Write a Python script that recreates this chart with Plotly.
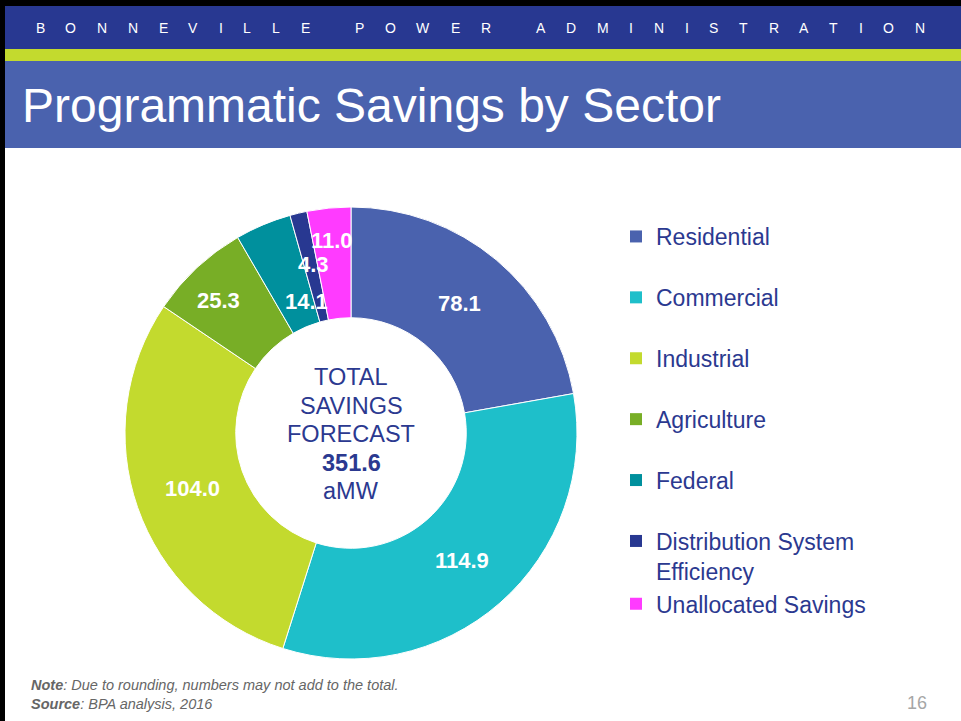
import plotly.graph_objects as go
import math

# data
sectors = ["Residential", "Commercial", "Industrial", "Agriculture", "Federal",
           "Distribution System<br>Efficiency", "Unallocated Savings"]
savings = [78.1, 114.9, 104.0, 25.3, 14.1, 4.3, 11.0]
total_forecast = 351.6
colors = ["#4A62AE", "#1EBFCA", "#C3DA2E", "#78AE26", "#00909D", "#283891", "#FF3BFF"]

W, H = 961, 721
DARK = "#283891"
TXT = "#2B3990"


def px(x):
    return x / W


def py(y):
    return 1 - y / H


def note(x, y, text, size, color, xanchor="center", **kw):
    fig.add_annotation(x=px(x), y=py(y), xref="paper", yref="paper", text=text,
                       showarrow=False, xanchor=xanchor, yanchor="middle",
                       font=dict(size=size, color=color), **kw)


fig = go.Figure()

# donut centre / size in pixels
cx, cy, R = 351, 433, 226
fig.add_trace(go.Pie(
    labels=sectors, values=savings, sort=False, direction="clockwise",
    hole=0.51, textinfo="none", hoverinfo="label+value",
    marker=dict(colors=colors, line=dict(color="white", width=1)),
    domain=dict(x=[px(cx - R), px(cx + R)], y=[py(cy + R), py(cy - R)]),
    showlegend=False,
))

# legend via dummy traces (lets me space the entries out)
groups = ["a", "b", "c", "d", "e", "f", "f"]
for name, col, g in zip(sectors, colors, groups):
    fig.add_trace(go.Scatter(
        x=[None], y=[None], mode="markers", name=name, legendgroup=g,
        marker=dict(symbol="square", size=12, color=col),
    ))

# slice value labels at mid angles, pushed in/out a bit for the thin slices
label_r = [0.748, 0.748, 0.743, 0.827, 0.615, 0.765, 0.858]
label_da = [0, 0, 0, -2, 4, 1, 0]
tot = sum(savings)
cum = 0
for v, rf, da in zip(savings, label_r, label_da):
    mid = (cum + v / 2) / tot * 360 + da
    cum += v
    a = math.radians(mid)
    note(cx + R * rf * math.sin(a), cy - R * rf * math.cos(a), f"<b>{v:.1f}</b>", 22, "white")

# centre text, one line at a time
centre_lines = ["TOTAL", "SAVINGS", "FORECAST", f"<b>{total_forecast}</b>", "aMW"]
for i, t in enumerate(centre_lines):
    note(cx, 377 + i * 28.6, t, 23.5, TXT)

# slide header bands
shapes = [
    dict(x0=0, x1=W, y0=0, y1=6, fillcolor="black"),
    dict(x0=0, x1=W, y0=6, y1=49, fillcolor=DARK),
    dict(x0=0, x1=W, y0=49, y1=61, fillcolor="#C3DA2E"),
    dict(x0=0, x1=W, y0=61, y1=148, fillcolor="#4A62AE"),
    dict(x0=0, x1=5, y0=0, y1=H, fillcolor="black"),
]
for s in shapes:
    fig.add_shape(type="rect", xref="paper", yref="paper", line_width=0, layer="below",
                  x0=px(s["x0"]), x1=px(s["x1"]), y0=py(s["y1"]), y1=py(s["y0"]),
                  fillcolor=s["fillcolor"])

# spaced-out agency name, one letter at a time
widths = {"B": .667, "O": .778, "N": .722, "E": .667, "V": .667, "I": .278, "L": .556,
          "P": .667, "W": .944, "R": .722, "A": .667, "D": .722, "M": .833, "S": .667,
          "T": .611, " ": .278}
fs, track = 14, 20.7
xl = 35.5
for ch in "BONNEVILLE POWER ADMINISTRATION":
    w = widths[ch] * fs
    if ch != " ":
        note(xl + w / 2, 28, ch, fs, "white")
    xl += w + track

note(20, 106, "Programmatic Savings by Sector", 48, "white", xanchor="left")

note(29, 694, "<b><i>Note</i></b><i>: Due to rounding, numbers may not add to the total.</i>"
              "<br><b><i>Source</i></b><i>: BPA analysis, 2016</i>",
     14.5, "#666666", xanchor="left", align="left")
note(929, 703, "16", 18, "#A6A6A6", xanchor="right")

fig.update_layout(
    width=W, height=H, margin=dict(l=0, r=0, t=0, b=0),
    paper_bgcolor="white", plot_bgcolor="rgba(0,0,0,0)",
    font=dict(family="Liberation Sans, Arial, sans-serif"),
    xaxis=dict(visible=False), yaxis=dict(visible=False),
    legend=dict(x=px(616), y=py(215), xanchor="left", yanchor="top",
                font=dict(size=23, color=TXT), tracegroupgap=28, valign="top",
                bgcolor="rgba(0,0,0,0)"),
)

# page body margin would shift the slide by 8px
fig.write_html("out.html", config={"displayModeBar": False},
               post_script="document.body.style.margin='0';")
